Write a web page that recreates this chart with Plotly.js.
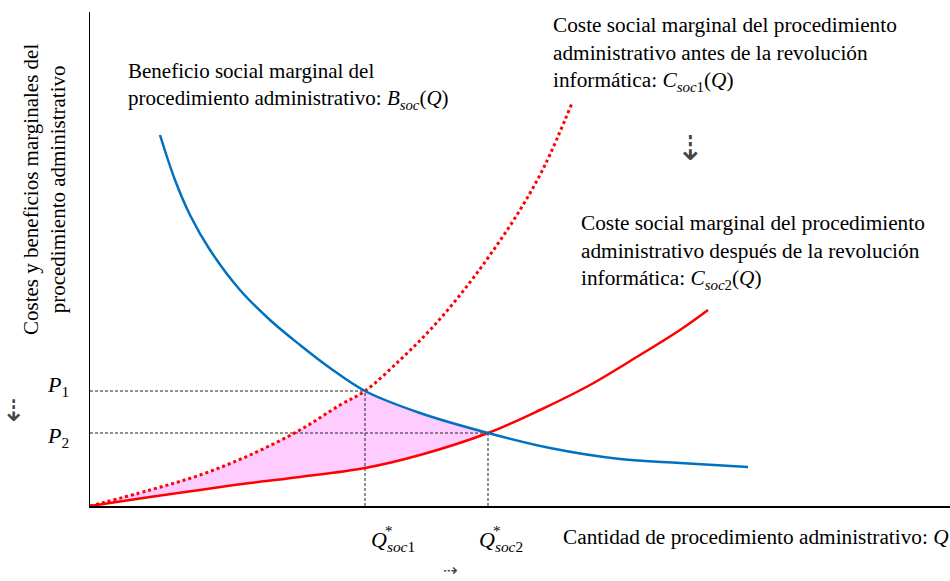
<!DOCTYPE html>
<html>
<head>
<meta charset="utf-8">
<script src="https://cdn.plot.ly/plotly-3.0.1.min.js"></script>
<style>html,body{margin:0;padding:0;background:#fff;}#chart{width:950px;height:581px;}</style>
</head>
<body>
<div id="chart"></div>
<script>
// Marginal social benefit curve B_soc(Q)
const benefitQ = [70, 85, 100, 120, 150, 180, 210, 240, 275, 330, 398, 460, 530, 590, 658];
const benefitP = [371, 326, 291, 256, 216, 186, 161, 138, 115, 93, 73, 58, 47, 43, 39];
// Marginal social cost before IT revolution C_soc1(Q)
const cost1Q = [0, 60, 110, 160, 210, 250, 275, 310, 340, 370, 400, 430, 455, 482];
const cost1P = [0, 16, 31, 51, 76, 101, 115, 146, 176, 211, 251, 296, 341, 403];
// Marginal social cost after IT revolution C_soc2(Q)
const cost2Q = [0, 60, 110, 160, 210, 275, 330, 398, 450, 500, 550, 590, 618];
const cost2P = [0, 9, 16, 23, 29, 38, 51, 73, 96, 121, 151, 176, 196];
// Equilibria
const eqQ = [275, 398];
const eqP = [115, 73];
const pLabels = ['<i>P</i><sub>1</sub>', '<i>P</i><sub>2</sub>'];
const qLabels = ['<i>Q</i><sub><i>soc</i>1</sub>', '<i>Q</i><sub><i>soc</i>2</sub>'];

// Shaded area polygon: upper = C1 up to Q1, then B up to Q2; lower = C2 back to 0
const polyX = [], polyY = [];
cost1Q.forEach((q, i) => { if (q <= eqQ[0]) { polyX.push(q); polyY.push(cost1P[i]); } });
benefitQ.forEach((q, i) => { if (q > eqQ[0] && q <= eqQ[1]) { polyX.push(q); polyY.push(benefitP[i]); } });
for (let i = cost2Q.length - 1; i >= 0; i--) { if (cost2Q[i] <= eqQ[1]) { polyX.push(cost2Q[i]); polyY.push(cost2P[i]); } }

const serif = 'Liberation Serif, Times New Roman, serif';
const dashLine = {color: '#222', width: 1, dash: '3px,2px'};

const traces = [
  {x: polyX, y: polyY, mode: 'lines', fill: 'toself', fillcolor: '#FFCCFF', line: {width: 0}, hoverinfo: 'skip'},
  {x: [0, eqQ[0]], y: [eqP[0], eqP[0]], mode: 'lines', line: dashLine},
  {x: [0, eqQ[1]], y: [eqP[1], eqP[1]], mode: 'lines', line: dashLine},
  {x: [eqQ[0], eqQ[0]], y: [0, eqP[0]], mode: 'lines', line: dashLine},
  {x: [eqQ[1], eqQ[1]], y: [0, eqP[1]], mode: 'lines', line: dashLine},
  {x: cost1Q, y: cost1P, mode: 'lines', line: {color: '#FF0000', width: 3, dash: 'dot', shape: 'spline'}},
  {x: cost2Q, y: cost2P, mode: 'lines', line: {color: '#FF0000', width: 2.5, shape: 'spline'}},
  {x: benefitQ, y: benefitP, mode: 'lines', line: {color: '#0070C0', width: 2.5, shape: 'spline'}}
];

// place annotations by page pixel position (converted to paper coordinates)
const L = 90, T = 12, W = 860, H = 494;
const ann = (px, py, text, opts) => Object.assign({
  x: (px - L) / W, y: (T + H - py) / H, xref: 'paper', yref: 'paper', text: text, showarrow: false,
  font: {family: serif, size: 21, color: '#000'}, xanchor: 'left', yanchor: 'top', align: 'left'}, opts || {});
const f = (size, fam, color) => ({family: fam || serif, size: size, color: color || '#000'});

const annotations = [
  ann(126, 57, 'Beneficio social marginal del<br>procedimiento administrativo: <i>B</i><sub><i>soc</i></sub>(<i>Q</i>)'),
  ann(551, 11, 'Coste social marginal del procedimiento<br>administrativo antes de la revolución<br>informática: <i>C</i><sub><i>soc</i>1</sub>(<i>Q</i>)', {font: f(21.3)}),
  ann(579, 209, 'Coste social marginal del procedimiento<br>administrativo después de la revolución<br>informática: <i>C</i><sub><i>soc</i>2</sub>(<i>Q</i>)', {font: f(21.3)}),
  ann(393, 541, qLabels[0], {xanchor: 'center', yanchor: 'middle', font: f(22)}),
  ann(501, 541, qLabels[1], {xanchor: 'center', yanchor: 'middle', font: f(22)}),
  ann(389, 531, '*', {xanchor: 'center', yanchor: 'middle', font: f(15)}),
  ann(497, 531, '*', {xanchor: 'center', yanchor: 'middle', font: f(15)}),
  ann(58, 386, pLabels[0], {xanchor: 'center', yanchor: 'middle', font: f(22)}),
  ann(58, 437, pLabels[1], {xanchor: 'center', yanchor: 'middle', font: f(22)}),
  ann(951, 537, 'Cantidad de procedimiento administrativo: <i>Q</i>', {xanchor: 'right', yanchor: 'middle', font: f(21.3)}),
  ann(45, 190, 'Costes y beneficios marginales del<br>procedimiento administrativo', {xanchor: 'center', yanchor: 'middle', textangle: -90, align: 'center'}),
  ann(690, 148, '⇣', {xanchor: 'center', yanchor: 'middle', font: f(34, 'DejaVu Sans', '#444')}),
  ann(13, 410, '⇣', {xanchor: 'center', yanchor: 'middle', font: f(30, 'DejaVu Sans', '#444')}),
  ann(450, 581, '⇢', {xanchor: 'center', yanchor: 'bottom', borderpad: 0, font: f(17, 'DejaVu Sans', '#444')})
];

const layout = {
  width: 950, height: 581,
  margin: {l: L, r: 950 - L - W, t: T, b: 581 - T - H},
  paper_bgcolor: '#fff', plot_bgcolor: '#fff',
  showlegend: false,
  xaxis: {range: [0, 860], showgrid: false, zeroline: false, showticklabels: false, ticks: '',
    showline: true, linecolor: '#000', linewidth: 1.5, fixedrange: true},
  yaxis: {range: [0, 494], showgrid: false, zeroline: false, showticklabels: false, ticks: '',
    showline: true, linecolor: '#000', linewidth: 1.5, fixedrange: true},
  annotations: annotations
};

Plotly.newPlot('chart', traces, layout, {displayModeBar: false, staticPlot: true});
</script>
</body>
</html>
